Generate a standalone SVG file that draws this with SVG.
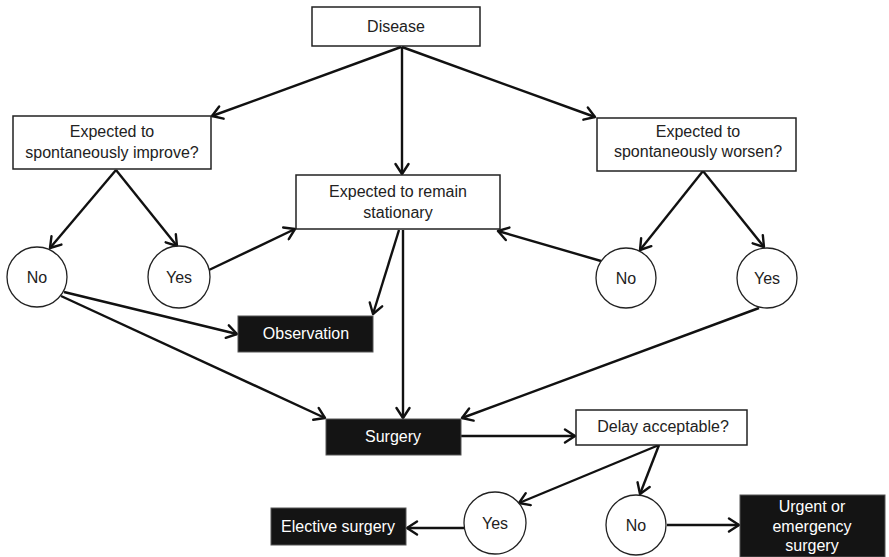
<svg xmlns="http://www.w3.org/2000/svg" width="889" height="557" viewBox="0 0 889 557">
  <style>
    .box { fill: #ffffff; stroke: #222222; stroke-width: 1.5; }
    .dark { fill: #141414; stroke: #555555; stroke-width: 1; }
    .circ { fill: #ffffff; stroke: #222222; stroke-width: 1.3; }
    .t { font-family: "Liberation Sans", Arial, sans-serif; font-size: 16px; fill: #222222; text-anchor: middle; }
    .tw { font-family: "Liberation Sans", Arial, sans-serif; font-size: 16px; fill: #ffffff; text-anchor: middle; }
    .edge { stroke: #111111; stroke-width: 2.4; fill: none; marker-end: url(#arrow); }
  </style>
  <defs>
    <marker id="arrow" viewBox="-12 -8 14 16" refX="0" refY="0" markerWidth="14" markerHeight="16" markerUnits="userSpaceOnUse" orient="auto">
      <path d="M-10,-6.5 L0,0 L-10,6.5" fill="none" stroke="#111111" stroke-width="2.4" stroke-linejoin="round" stroke-linecap="round"/>
    </marker>
  </defs>
  <rect width="889" height="557" fill="#ffffff"/>

  <g id="connectors">
    <line class="edge" x1="401" y1="47" x2="212" y2="116"/>
    <line class="edge" x1="402" y1="47" x2="402" y2="174"/>
    <line class="edge" x1="402" y1="47" x2="595" y2="117"/>
    <line class="edge" x1="116" y1="170" x2="50" y2="248"/>
    <line class="edge" x1="116" y1="170" x2="177" y2="246"/>
    <line class="edge" x1="209" y1="270" x2="295" y2="229"/>
    <line class="edge" x1="399" y1="230" x2="373" y2="314"/>
    <line class="edge" x1="403" y1="230" x2="403" y2="418"/>
    <line class="edge" x1="703" y1="171" x2="640" y2="250"/>
    <line class="edge" x1="703" y1="171" x2="764" y2="247"/>
    <line class="edge" x1="601" y1="261" x2="498" y2="231"/>
    <line class="edge" x1="64" y1="292" x2="237" y2="334"/>
    <line class="edge" x1="61" y1="296" x2="325" y2="418"/>
    <line class="edge" x1="759" y1="308" x2="462" y2="418"/>
    <line class="edge" x1="461" y1="436" x2="575" y2="436"/>
    <line class="edge" x1="659" y1="445" x2="519" y2="503"/>
    <line class="edge" x1="659" y1="445" x2="640" y2="494"/>
    <line class="edge" x1="464" y1="528" x2="407" y2="528"/>
    <line class="edge" x1="667" y1="525" x2="739" y2="525"/>
  </g>

  <g id="disease">
    <rect class="box" x="312" y="7" width="168" height="39"/>
    <text class="t" x="396" y="32">Disease</text>
  </g>

  <g id="improve">
    <rect class="box" x="13" y="116" width="198" height="53"/>
    <text class="t" x="112" y="137">Expected to</text>
    <text class="t" x="112" y="158">spontaneously improve?</text>
  </g>

  <g id="stationary">
    <rect class="box" x="296" y="175" width="204" height="54"/>
    <text class="t" x="398" y="197">Expected to remain</text>
    <text class="t" x="398" y="218">stationary</text>
  </g>

  <g id="worsen">
    <rect class="box" x="597" y="118" width="199" height="53"/>
    <text class="t" x="698" y="137">Expected to</text>
    <text class="t" x="698" y="157">spontaneously worsen?</text>
  </g>

  <g id="improve-no">
    <circle class="circ" cx="37" cy="277" r="30"/>
    <text class="t" x="37" y="283">No</text>
  </g>

  <g id="improve-yes">
    <circle class="circ" cx="179" cy="277" r="31"/>
    <text class="t" x="179" y="283">Yes</text>
  </g>

  <g id="worsen-no">
    <circle class="circ" cx="626" cy="278" r="30"/>
    <text class="t" x="626" y="284">No</text>
  </g>

  <g id="worsen-yes">
    <circle class="circ" cx="767" cy="278" r="30"/>
    <text class="t" x="767" y="284">Yes</text>
  </g>

  <g id="observation">
    <rect class="dark" x="238" y="316" width="135" height="36"/>
    <text class="tw" x="306" y="339">Observation</text>
  </g>

  <g id="surgery">
    <rect class="dark" x="326" y="419" width="135" height="36"/>
    <text class="tw" x="393" y="442">Surgery</text>
  </g>

  <g id="delay">
    <rect class="box" x="576" y="410" width="171" height="35"/>
    <text class="t" x="663" y="432">Delay acceptable?</text>
  </g>

  <g id="delay-yes">
    <circle class="circ" cx="495" cy="523" r="31"/>
    <text class="t" x="495" y="529">Yes</text>
  </g>

  <g id="delay-no">
    <circle class="circ" cx="636" cy="525" r="30"/>
    <text class="t" x="636" y="531">No</text>
  </g>

  <g id="elective">
    <rect class="dark" x="271" y="508" width="135" height="37"/>
    <text class="tw" x="338" y="532">Elective surgery</text>
  </g>

  <g id="urgent">
    <rect class="dark" x="740" y="495" width="145" height="62"/>
    <text class="tw" x="812" y="512">Urgent or</text>
    <text class="tw" x="812" y="532">emergency</text>
    <text class="tw" x="812" y="551">surgery</text>
  </g>
</svg>
